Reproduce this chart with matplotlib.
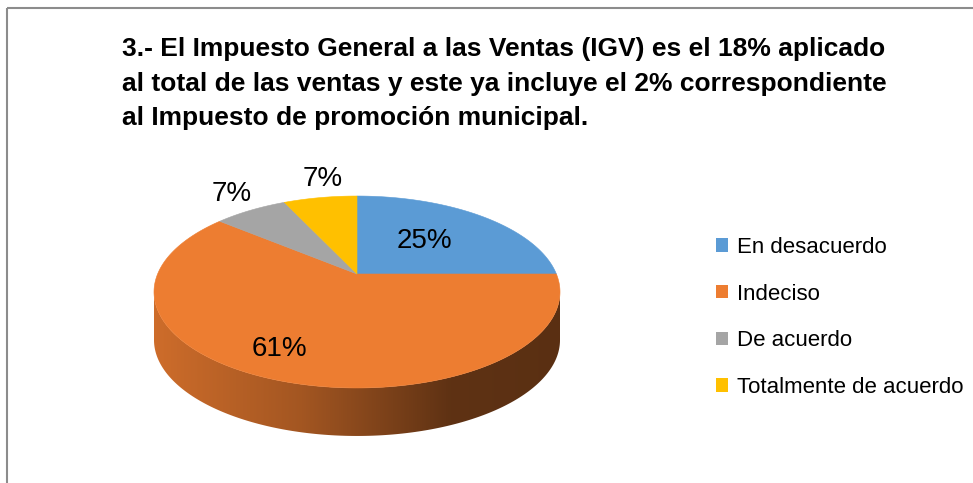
import numpy as np
import matplotlib
matplotlib.use("Agg")
import matplotlib.pyplot as plt
from matplotlib.patches import Polygon, Patch
from matplotlib.colors import to_rgb

# Daten der Umfrage (Prozent)
categorias = ["En desacuerdo", "Indeciso", "De acuerdo", "Totalmente de acuerdo"]
valores = [25, 61, 7, 7]
colores = ["#5b9bd5", "#ed7d31", "#a5a5a5", "#ffc000"]
titulo = [
    "3.- El Impuesto General a las Ventas (IGV) es el 18% aplicado",
    "al total de las ventas y este ya incluye el 2% correspondiente",
    "al Impuesto de promoción municipal.",
]

FUENTE = "Liberation Sans"

W, H = 973, 483
fig = plt.figure(figsize=(W / 100, H / 100), dpi=100)
ax = fig.add_axes([0, 0, 1, 1])
ax.set_xlim(0, W)
ax.set_ylim(H, 0)
ax.axis("off")

# Geometrie des 3D-Kuchens (Pixel)
cx, cy = 357, 274
A, B, e = 199.4, 92.6, 0.1875
dicke = 48


def proj(t, r=1.0, z=0.0):
    u = r * np.cos(t)
    w = r * np.sin(t)
    s = 1.0 / (1.0 + e * w)
    return cx + A * u * s, cy - B * w * s + z


# Winkel der Segmente (Start oben, im Uhrzeigersinn)
anteile = np.array(valores, dtype=float) / sum(valores)
grenzen = 90 - 360 * np.concatenate([[0], np.cumsum(anteile)])

# sichtbarer Rand vorne
t_links = -180 + np.degrees(np.arcsin(e))
t_rechts = -np.degrees(np.arcsin(e))

for i in range(len(valores)):
    a1, a2 = grenzen[i + 1], grenzen[i]
    lo, hi = max(a1, t_links), min(a2, t_rechts)
    if hi <= lo:
        continue
    t = np.radians(np.linspace(lo, hi, 200))
    xo, yo = proj(t)
    xu, yu = proj(t[::-1], z=dicke)
    poly = Polygon(np.column_stack([np.r_[xo, xu], np.r_[yo, yu]]),
                   closed=True, facecolor="none", edgecolor="none")
    ax.add_patch(poly)
    x0, x1 = np.min(xo) - 2, np.max(xo) + 2
    y0, y1 = np.min(yo) - 2, np.max(yu) + 2
    xs = np.linspace(x0, x1, 400)
    faktor = np.interp(xs, [152, 300, 450, 560], [0.87, 0.69, 0.40, 0.38])
    grad = np.array(to_rgb(colores[i]))[None, None, :] * faktor[None, :, None]
    grad = np.repeat(grad, 2, axis=0)
    img = ax.imshow(grad, extent=[x0, x1, y1, y0], aspect="auto",
                    interpolation="bilinear", zorder=1)
    img.set_clip_path(poly)

# Oberseite
for i in range(len(valores)):
    t = np.radians(np.linspace(grenzen[i], grenzen[i + 1], 300))
    xs, ys = proj(t)
    pts = np.column_stack([np.r_[cx, xs], np.r_[cy, ys]])
    ax.add_patch(Polygon(pts, closed=True, facecolor=colores[i],
                         edgecolor=colores[i], linewidth=0.4, zorder=2))

# Beschriftungen
radio_etiqueta = [0.53, 0.78, 1.28, 1.28]
giro_etiqueta = [2, -6, -2, -3]
for i, v in enumerate(valores):
    mid = np.radians((grenzen[i] + grenzen[i + 1]) / 2 + giro_etiqueta[i])
    lx, ly = proj(mid, r=radio_etiqueta[i])
    ax.text(lx, ly, f"{v}%", ha="center", va="center", fontsize=20,
            family=FUENTE, color="black", zorder=3)

# Titel
for k, linea in enumerate(titulo):
    ax.text(122, 56 + 34.5 * k, linea, ha="left", va="baseline",
            fontsize=19, fontweight="bold", family=FUENTE, color="black")

# Legende
handles = [Patch(facecolor=c, edgecolor="none") for c in colores]
ax.legend(handles, categorias, loc="upper left", bbox_to_anchor=(716, 237),
          bbox_transform=ax.transData, frameon=False, borderpad=0,
          borderaxespad=0, handlelength=0.55, handleheight=0.55,
          handletextpad=0.4, labelspacing=1.15,
          prop={"family": FUENTE, "size": 16})

# Rahmen
ax.plot([7, W], [8, 8], color="#8c8c8c", lw=1.5, solid_capstyle="butt")
ax.plot([7, 7], [8, H], color="#8c8c8c", lw=1.5, solid_capstyle="butt")

fig.savefig("out.png", dpi=100)
